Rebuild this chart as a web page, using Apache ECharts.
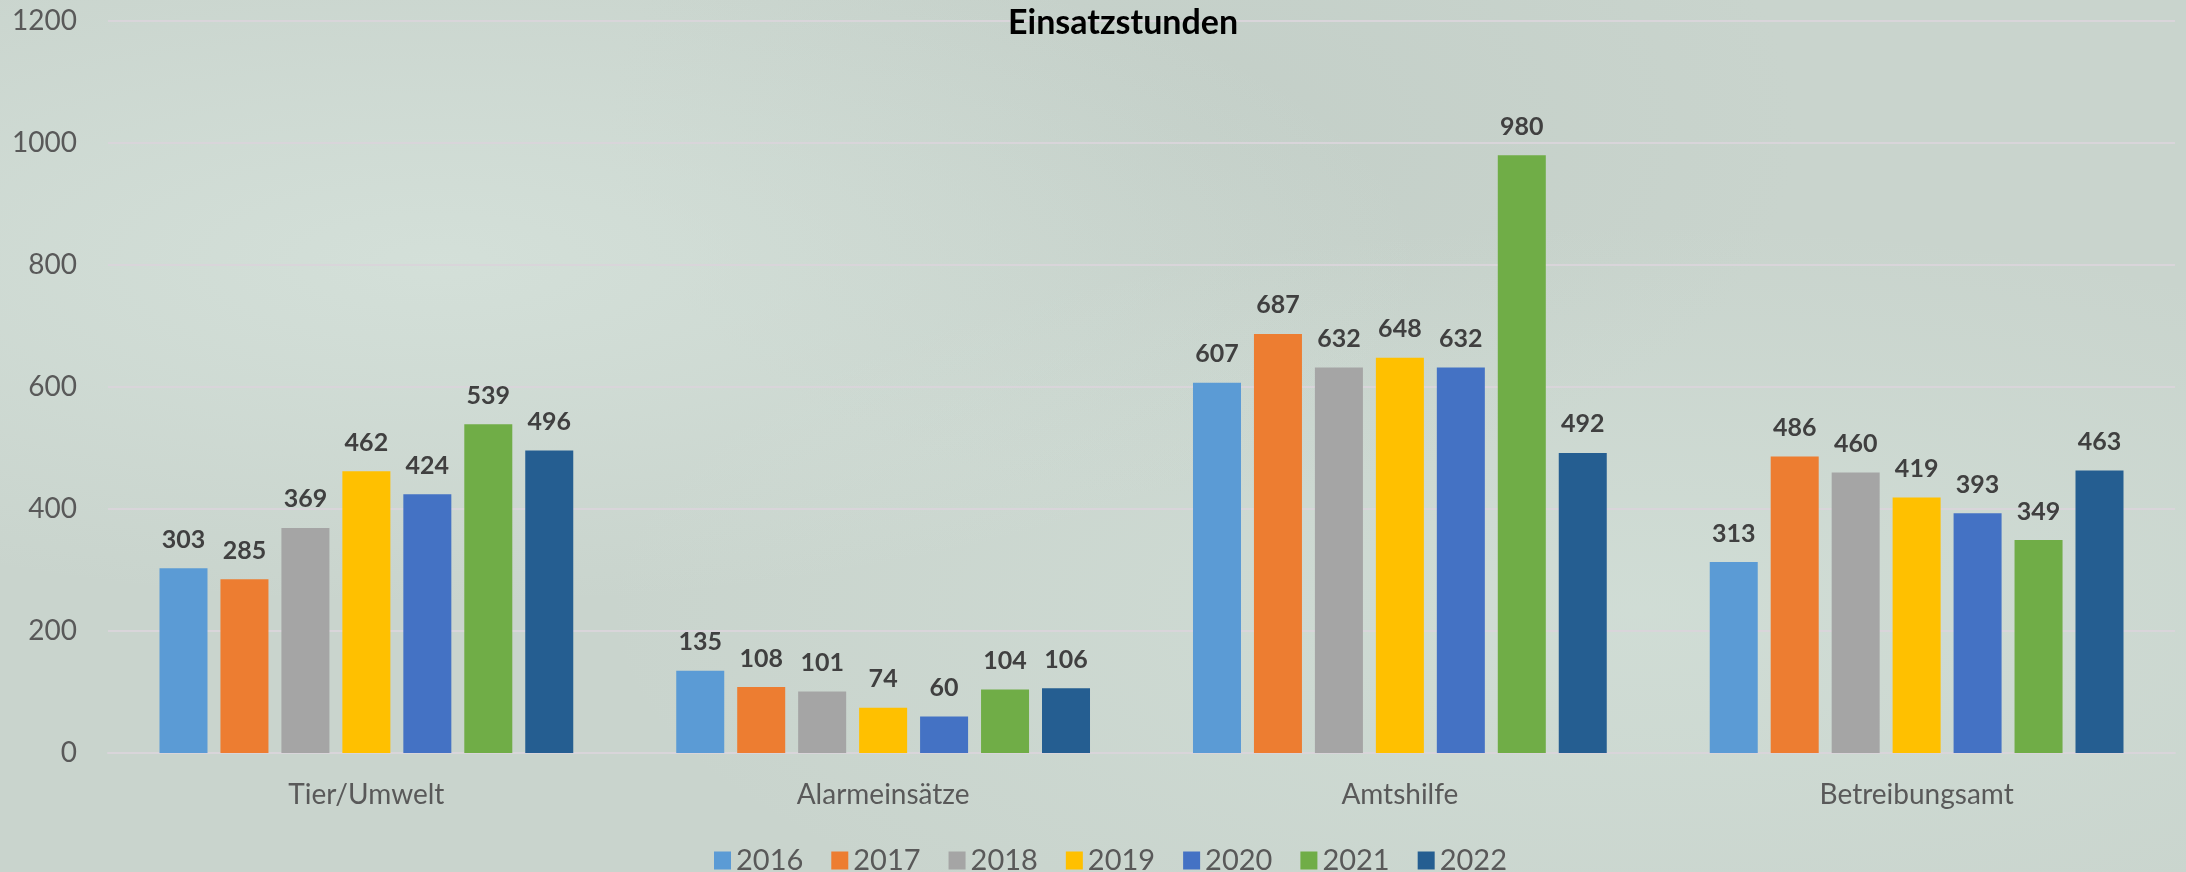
<!DOCTYPE html>
<html>
<head>
<meta charset="utf-8">
<title>Einsatzstunden</title>
<script src="https://cdn.jsdelivr.net/npm/echarts@6/dist/echarts.min.js"></script>
<style>
  html, body { margin: 0; padding: 0; }
  body {
    width: 2186px; height: 872px;
    background-color: #c9d4cd;
    background-image:
      radial-gradient(ellipse at 20% 30%, rgba(220,233,226,0.55), rgba(220,233,226,0) 40%),
      radial-gradient(ellipse at 75% 70%, rgba(215,229,221,0.5), rgba(215,229,221,0) 45%),
      radial-gradient(ellipse at 55% 15%, rgba(190,202,195,0.5), rgba(190,202,195,0) 35%);
  }
  #main { width: 2186px; height: 872px; }
</style>
</head>
<body>
<div id="main"></div>
<script>
// Kategorien und Werte pro Jahr
var categories = ['Tier/Umwelt', 'Alarmeinsätze', 'Amtshilfe', 'Betreibungsamt'];
var years = ['2016', '2017', '2018', '2019', '2020', '2021', '2022'];
var v2016 = [303, 135, 607, 313];
var v2017 = [285, 108, 687, 486];
var v2018 = [369, 101, 632, 460];
var v2019 = [462, 74, 648, 419];
var v2020 = [424, 60, 632, 393];
var v2021 = [539, 104, 980, 349];
var v2022 = [496, 106, 492, 463];
var yTicks = [0, 200, 400, 600, 800, 1000, 1200];

var values = [v2016, v2017, v2018, v2019, v2020, v2021, v2022];
var colors = ['#5b9bd5', '#ed7d31', '#a5a5a5', '#ffc000', '#4472c4', '#70ad47', '#255e91'];
var font = 'Lato, "Open Sans", sans-serif';

var myChart = echarts.init(document.getElementById('main'));

var series = [];
for (var i = 0; i < years.length; i++) {
  series.push({
    name: years[i],
    type: 'bar',
    data: values[i],
    barWidth: 48,
    barGap: '27%',
    itemStyle: { color: colors[i] },
    label: {
      show: true,
      position: 'top',
      distance: 16,
      color: '#404040',
      fontWeight: 'bold',
      fontSize: 25,
      fontFamily: font
    }
  });
}

var option = {
  animation: false,
  title: {
    text: 'Einsatzstunden',
    left: 1003,
    top: 1,
    textStyle: {
      color: '#000',
      fontWeight: 'bold',
      fontSize: 34,
      fontFamily: font
    }
  },
  legend: {
    data: years,
    top: 841,
    left: 709,
    itemWidth: 17,
    itemHeight: 18,
    itemGap: 28,
    icon: 'rect',
    textStyle: { color: '#595959', fontSize: 29, fontFamily: font }
  },
  grid: {
    left: 108,
    right: 11,
    top: 21,
    bottom: 119,
    containLabel: false
  },
  xAxis: {
    type: 'category',
    data: categories,
    axisLine: { lineStyle: { color: '#d9d5da', width: 2 } },
    axisTick: { show: false },
    axisLabel: { color: '#595959', fontSize: 28, margin: 28, fontFamily: font }
  },
  yAxis: {
    type: 'value',
    min: yTicks[0],
    max: yTicks[yTicks.length - 1],
    interval: yTicks[1] - yTicks[0],
    axisLine: { show: false },
    axisTick: { show: false },
    axisLabel: {
      color: '#595959', fontSize: 28, margin: 31, fontFamily: font,
      formatter: function (v) { return String(v); }
    },
    splitLine: { lineStyle: { color: '#d9d5da', width: 2 } }
  },
  series: series
};

myChart.setOption(option);
</script>
</body>
</html>
